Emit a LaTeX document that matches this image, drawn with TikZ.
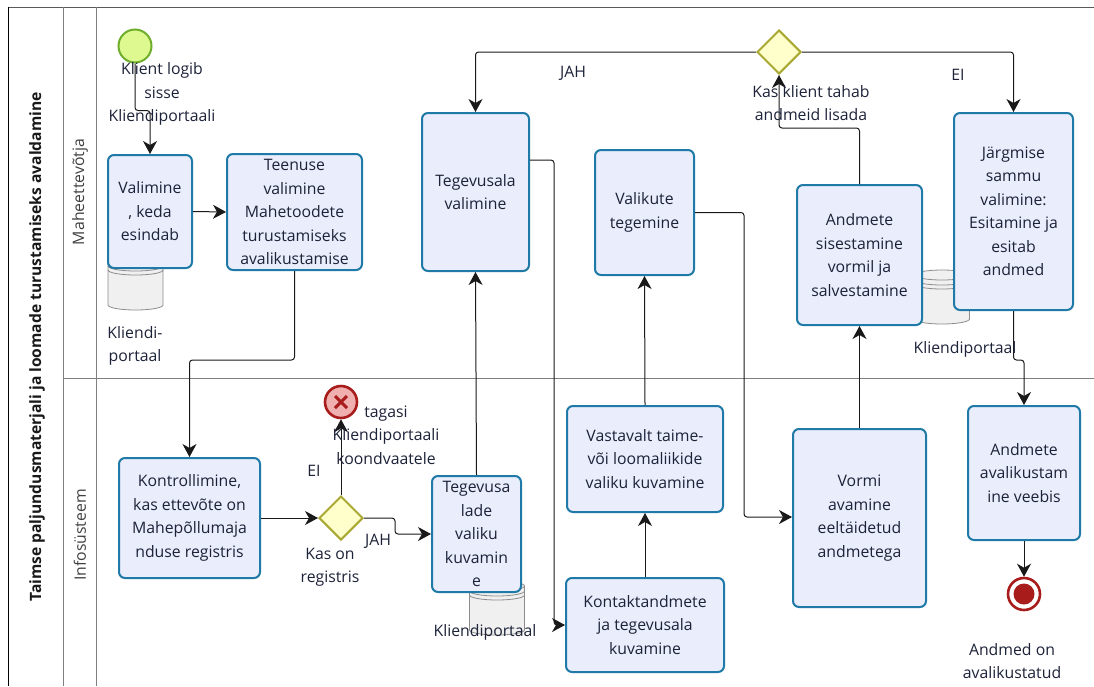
\documentclass[tikz,border=0pt]{standalone}
\usepackage{fontspec}
\setmainfont{Open Sans}
\usepackage{xcolor}
\usetikzlibrary{arrows.meta}
\usetikzlibrary{shapes.geometric,shapes.misc}
\definecolor{taskblue}{HTML}{1f7aa8}
\definecolor{taskfill}{HTML}{e9edfc}
\definecolor{gatefill}{HTML}{ffffcc}
\definecolor{gateline}{HTML}{a8a832}
\definecolor{startfill}{HTML}{ddf98f}
\definecolor{startline}{HTML}{6fae2c}
\definecolor{endred}{HTML}{a81c1c}
\definecolor{errfill}{HTML}{f0b0b0}
\definecolor{pag}{HTML}{1c2238}
\tikzset{
	basefont/.style={font=\fontsize{15.8}{23.5}\selectfont, text=pag},
	taskbox/.style={draw=taskblue, fill=taskfill, line width=2pt, rounded corners=6pt, inner sep=0pt, align=center, basefont},
	gate/.style={diamond, draw=gateline, fill=gatefill, line width=2pt, minimum width=44pt, minimum height=44pt, inner sep=0pt},
	startev/.style={circle, draw=startline, fill=startfill, line width=2pt, minimum size=33pt, inner sep=0pt},
	lbl/.style={align=center, inner sep=0pt, basefont},
	flow/.style={draw=black!90, line width=1pt, rounded corners=3pt, -{Stealth[length=13pt,width=14pt,inset=4pt]}},
	lane/.style={draw=black!50, line width=0.9pt},
	datastore/.pic={
		\draw[fill=black!6, draw=black!45, line width=0.8pt] (-27.5,-22) -- (-27.5,22) arc[start angle=180, end angle=0, x radius=27.5, y radius=5] -- (27.5,-22) arc[start angle=0, end angle=-180, x radius=27.5, y radius=5] -- cycle;
		\draw[draw=black!45, line width=0.8pt] (-27.5,-22) arc[start angle=180, end angle=0, x radius=27.5, y radius=5];
		\draw[draw=black!45, line width=0.8pt] (-27.5,-17) arc[start angle=180, end angle=0, x radius=27.5, y radius=5];
		\draw[draw=black!45, line width=0.8pt] (-27.5,-13) arc[start angle=180, end angle=0, x radius=27.5, y radius=5];
	}
}
\begin{document}
\begin{tikzpicture}[x=1pt,y=-1pt]
	\useasboundingbox (0,0) rectangle (1094,686);
	%% pool and lanes
	\draw[draw=black!65, line width=0.9pt] (8,7) -- (1094,7);
	\draw[draw=black, line width=0.9pt] (8,7) -- (8,686);
	\draw[lane] (63,7) -- (63,686);
	\draw[lane] (96,7) -- (96,686);
	\draw[lane] (63,378) -- (1094,378);
	\node[lbl, rotate=90, font=\fontsize{15.6}{17}\bfseries\selectfont, text=black!90] (pooltitle) at (37,347) {Taimse paljundusmaterjali ja loomade turustamiseks avaldamine};
	\node[lbl, rotate=90, text=black!75] (lanetop) at (80,192) {Maheettevõtja};
	\node[lbl, rotate=90, text=black!75] (lanebottom) at (80,535) {Infosüsteem};
	%% data stores sit behind the tasks
	\pic at (135.5,283) {datastore};
	\pic at (497,608) {datastore};
	\pic at (942,297) {datastore};
	%% tasks
	\node[taskbox, minimum width=84pt, minimum height=113pt] (valimine) at (150,211.5) {Valimine\\, keda\\esindab};
	\node[taskbox, minimum width=135pt, minimum height=116pt] (teenus) at (294.5,212) {Teenuse\\valimine\\Mahetoodete\\turustamiseks\\avalikustamise};
	\node[taskbox, minimum width=107pt, minimum height=158pt] (tegevusala) at (475.5,192) {Tegevusala\\valimine};
	\node[taskbox, minimum width=99pt, minimum height=125pt] (valikud) at (644.5,212.5) {Valikute\\tegemine};
	\node[taskbox, minimum width=125pt, minimum height=140pt] (sisestamine) at (859.5,255) {Andmete\\sisestamine\\vormil ja\\salvestamine};
	\node[taskbox, minimum width=119pt, minimum height=197pt] (jargmine) at (1013.5,211.5) {Järgmise\\sammu\\valimine:\\Esitamine ja\\esitab\\andmed};
	\node[taskbox, minimum width=141pt, minimum height=120pt] (kontroll) at (189.5,518) {Kontrollimine,\\kas ettevõte on\\Mahepõllumaja\\nduse registris};
	\node[taskbox, minimum width=89pt, minimum height=116pt] (tegevusalad) at (476.5,534) {Tegevusa\\lade\\valiku\\kuvamin\\e};
	\node[taskbox, minimum width=156pt, minimum height=106pt] (vastavalt) at (645,459) {Vastavalt taime-\\või loomaliikide\\valiku kuvamine};
	\node[taskbox, minimum width=158pt, minimum height=94pt] (kontakt) at (645,625) {Kontaktandmete\\ja tegevusala\\kuvamine};
	\node[taskbox, minimum width=133pt, minimum height=178pt] (vorm) at (859.5,518) {Vormi\\avamine\\eeltäidetud\\andmetega};
	\node[taskbox, minimum width=112pt, minimum height=134pt] (avalik) at (1024,473) {Andmete\\avalikustam\\ine veebis};
	%% events and gateways
	\node[startev] (algus) at (135,46) {};
	\node[gate] (gatetop) at (779,52) {};
	\node[gate] (gatereg) at (341,518) {};
	\node[circle, draw=endred, fill=errfill, line width=2.6pt, minimum size=32pt, inner sep=0pt] (viga) at (341,402) {};
	\node[cross out, draw=endred, line width=3pt, minimum size=9pt, inner sep=0pt] (vigamark) at (341,402) {};
	\node[circle, draw=endred, fill=white, line width=2.6pt, minimum size=32pt, inner sep=0pt] (lopp) at (1024,594) {};
	\node[circle, fill=endred, minimum size=21pt, inner sep=0pt] (lopptapp) at (1024,594) {};
	%% connectors
	\draw[flow] (algus.south) -- ++(0,47) -| (valimine.north);
	\draw[flow] (valimine.east) -- (teenus.west);
	\draw[flow] (teenus.south) -- ++(0,89) -| (kontroll.north);
	\draw[flow] (kontroll.east) -- (gatereg.west);
	\draw[flow] (gatereg.north) -- (viga.south);
	\draw[flow] (gatereg.east) -- ++(31,0) |- (tegevusalad.west);
	\draw[flow] (tegevusalad.north) -- (tegevusala.south);
	\draw[flow] (tegevusala.east |- 0,160) -- ++(24,0) |- (kontakt.west);
	\draw[flow] (kontakt.north) -- (vastavalt.south);
	\draw[flow] (vastavalt.north) -- (valikud.south);
	\draw[flow] (valikud.east) -- ++(49,0) |- (vorm.west |- 0,517);
	\draw[flow] (vorm.north) -- (sisestamine.south);
	\draw[flow] (sisestamine.north) -- ++(0,-56) -| (gatetop.south);
	\draw[flow] (gatetop.west) -| (tegevusala.north);
	\draw[flow] (gatetop.east) -| (jargmine.north);
	\draw[flow] (jargmine.south) -- ++(0,49) -| (avalik.north);
	\draw[flow] (avalik.south) -- (lopp.north);
	%% labels
	\node[lbl] (lblalgus) at (162,94) {Klient logib\\sisse\\Kliendiportaali};
	\node[lbl] (lblds1) at (135,346) {Kliendi-\\portaal};
	\node[lbl] (lblds2) at (485,632) {Kliendiportaal};
	\node[lbl] (lblds3) at (965,349) {Kliendiportaal};
	\node[lbl] (lbljah1) at (573,73) {JAH};
	\node[lbl] (lblei1) at (958,75) {EI};
	\node[lbl] (lblgatetop) at (811,103) {Kas klient tahab\\andmeid lisada};
	\node[lbl] (lblviga) at (386,435) {tagasi\\Kliendiportaali\\koondvaatele};
	\node[lbl] (lblei2) at (314,471) {EI};
	\node[lbl] (lbljah2) at (378,541) {JAH};
	\node[lbl] (lblgatereg) at (330,567) {Kas on\\registris};
	\node[lbl] (lbllopp) at (1012,661) {Andmed on\\avalikustatud};
\end{tikzpicture}
\end{document}
